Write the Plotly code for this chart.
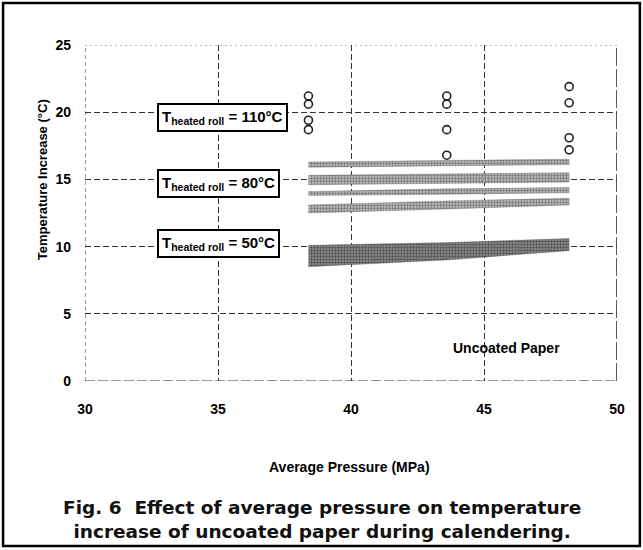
import plotly.graph_objects as go

# ---- data ----
pressure = [38.4, 43.6, 48.2]

# T heated roll = 110 C (open circles, 4 runs per pressure)
t110_run1 = [21.2, 21.2, 21.9]
t110_run2 = [20.6, 20.6, 20.7]
t110_run3 = [19.4, 18.7, 18.1]
t110_run4 = [18.7, 16.8, 17.2]

# T heated roll = 80 C (stippled bands: lower / upper)
t80_a_low = [15.9, 16.0, 16.1]
t80_a_high = [16.3, 16.4, 16.5]
t80_b_low = [14.6, 14.7, 14.8]
t80_b_high = [15.3, 15.4, 15.5]
t80_c_low = [13.8, 13.9, 14.0]
t80_c_high = [14.1, 14.3, 14.4]
t80_d_low = [12.5, 12.8, 13.1]
t80_d_high = [13.1, 13.4, 13.6]

# T heated roll = 50 C (dark stippled band)
t50_low = [8.5, 9.0, 9.7]
t50_high = [10.1, 10.3, 10.6]

x_range = [30, 50]
y_range = [0, 25]
x_ticks = [30, 35, 40, 45, 50]
y_ticks = [0, 5, 10, 15, 20, 25]

box_labels = ["T<sub>heated roll</sub> = 110°C",
              "T<sub>heated roll</sub> = 80°C",
              "T<sub>heated roll</sub> = 50°C"]
box_x = [32.7, 32.7, 32.7]
box_y = [19.6, 14.7, 10.2]

FONT = "Liberation Sans, Arial, sans-serif"
CAPFONT = "DejaVu Sans, Liberation Sans, sans-serif"

fig = go.Figure()


def band(low, high, fg, bg, solidity):
    xs = pressure + pressure[::-1]
    ys = high + low[::-1]
    fig.add_trace(go.Scatter(
        x=xs, y=ys, mode="lines", fill="toself",
        line=dict(width=0.5, color="rgba(80,80,80,0.6)"),
        fillcolor=bg,
        fillpattern=dict(shape=".", fgcolor=fg, bgcolor=bg, size=3, solidity=solidity),
        hoverinfo="skip", showlegend=False))


for lo, hi in [(t80_a_low, t80_a_high), (t80_b_low, t80_b_high),
               (t80_c_low, t80_c_high), (t80_d_low, t80_d_high)]:
    band(lo, hi, "#2a2a2a", "#bdbdbd", 0.45)

band(t50_low, t50_high, "#1a1a1a", "#8f8f8f", 0.5)

for run in [t110_run1, t110_run2, t110_run3, t110_run4]:
    fig.add_trace(go.Scatter(
        x=pressure, y=run, mode="markers",
        marker=dict(symbol="circle-open", size=8, color="#222",
                    line=dict(width=1.6, color="#222")),
        showlegend=False))

for txt, bx, by in zip(box_labels, box_x, box_y):
    fig.add_annotation(x=bx, y=by, xref="x", yref="y", text=txt,
                       showarrow=False, xanchor="left", yanchor="middle",
                       font=dict(family=FONT, size=15, color="black", weight="bold"),
                       bgcolor="white", bordercolor="black", borderwidth=2, borderpad=3)

fig.add_annotation(x=45.83, y=2.46, xref="x", yref="y", text="Uncoated Paper",
                   showarrow=False, xanchor="center", yanchor="middle",
                   font=dict(family=FONT, size=14, color="black", weight="bold"))

# axis titles & caption
fig.add_annotation(x=-0.081, y=0.60, xref="paper", yref="paper",
                   xanchor="center", yanchor="middle",
                   text="Temperature Increase (°C)", textangle=-90, showarrow=False,
                   font=dict(family=FONT, size=13, color="black", weight="bold"))
fig.add_annotation(x=0.498, y=-0.256, xref="paper", yref="paper",
                   xanchor="center", yanchor="middle",
                   text="Average Pressure (MPa)", showarrow=False,
                   font=dict(family=FONT, size=14, color="black", weight="bold"))
fig.add_annotation(x=0.445, y=-0.412, xref="paper", yref="paper",
                   xanchor="center", yanchor="middle",
                   text="Fig. 6  Effect of average pressure on temperature<br>increase of uncoated paper during calendering.",
                   showarrow=False, align="center",
                   font=dict(family=CAPFONT, size=18.5, color="#111", weight="bold"))

# plot-area edge lines (left axis dashed, right edge solid, bottom dashed, top dotted)
fig.add_shape(type="line", xref="x", yref="y", x0=x_range[0], x1=x_range[0],
              y0=y_range[0], y1=y_range[1], line=dict(color="#333", width=1, dash="4px,3px"))
fig.add_shape(type="line", xref="x", yref="y", x0=x_range[1], x1=x_range[1],
              y0=y_range[0], y1=y_range[1], line=dict(color="#222", width=1.5, dash="18px,3px"))
fig.add_shape(type="line", xref="x", yref="y", x0=x_range[0], x1=x_range[1],
              y0=y_range[0], y1=y_range[0], line=dict(color="#333", width=1, dash="10px,3px"))
fig.add_shape(type="line", xref="x", yref="y", x0=x_range[0], x1=x_range[1],
              y0=y_range[1], y1=y_range[1], line=dict(color="#777", width=1, dash="2px,3px"))

# outer frame
fig.add_shape(type="rect", xref="paper", yref="paper",
              x0=-0.154, x1=1.043, y0=-0.491, y1=1.125,
              line=dict(color="black", width=2.5))

fig.update_xaxes(range=x_range, tickvals=x_ticks, showgrid=True,
                 gridcolor="#333", griddash="6px,3px", gridwidth=1,
                 zeroline=False, showline=False, ticks="",
                 ticklabelstandoff=18,
                 tickfont=dict(family=FONT, size=14, color="black", weight="bold"))
fig.update_yaxes(range=y_range, tickvals=y_ticks, showgrid=True,
                 gridcolor="#333", griddash="6px,3px", gridwidth=1,
                 zeroline=False, showline=False, ticks="",
                 ticklabelstandoff=13,
                 tickfont=dict(family=FONT, size=14, color="black", weight="bold"))

fig.update_layout(width=643, height=550,
                  margin=dict(l=85, r=26, t=45, b=169),
                  paper_bgcolor="white", plot_bgcolor="white",
                  showlegend=False)

# remove the default 8px page margin so the figure fills the window exactly
fig.write_html("out.html",
               config={"displayModeBar": False},
               post_script="document.body.style.margin='0';document.body.style.overflow='hidden';")
